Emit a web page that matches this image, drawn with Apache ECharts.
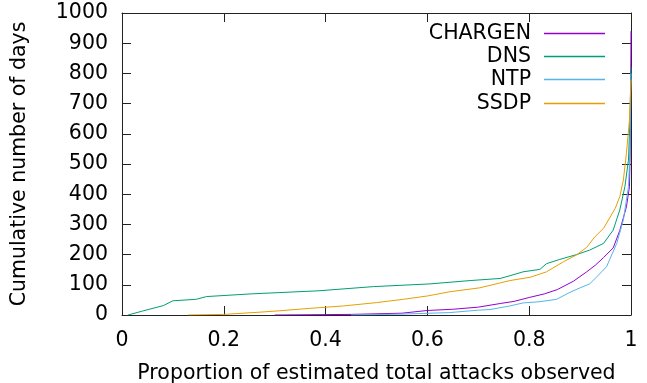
<!DOCTYPE html>
<html>
<head>
<meta charset="utf-8">
<script src="https://cdn.jsdelivr.net/npm/echarts@6/dist/echarts.min.js"></script>
<style>
  html, body { margin: 0; padding: 0; background: #fff; }
  #chart { width: 647px; height: 383px; }
</style>
</head>
<body>
<div id="chart"></div>
<script>
// Cumulative number of days vs. proportion of estimated total attacks observed
const seriesNames = ['CHARGEN', 'DNS', 'NTP', 'SSDP'];
const seriesColors = ['#9400d3', '#009e73', '#56b4e9', '#e69f00'];

// [proportion, cumulative days]
const chargen = [
  [0.30, 0], [0.45, 2], [0.55, 6], [0.60, 15], [0.65, 19], [0.70, 26], [0.743, 38],
  [0.77, 45], [0.80, 58], [0.83, 70], [0.855, 84], [0.887, 112], [0.913, 143],
  [0.93, 165], [0.946, 190], [0.965, 222], [0.978, 280], [0.991, 358], [0.997, 425],
  [0.999, 600], [1.0, 940]
];
const dns = [
  [0.012, 0], [0.04, 13], [0.081, 31], [0.100, 47], [0.146, 52], [0.166, 61],
  [0.254, 70], [0.385, 80], [0.494, 94], [0.605, 103], [0.684, 114], [0.743, 121],
  [0.762, 130], [0.788, 143], [0.821, 151], [0.834, 170], [0.86, 184], [0.893, 200],
  [0.919, 215], [0.946, 237], [0.965, 281], [0.978, 348], [0.988, 425], [0.995, 513],
  [0.998, 646], [1.0, 820]
];
const ntp = [
  [0.45, 0], [0.55, 3], [0.644, 8], [0.70, 16], [0.723, 18], [0.762, 30], [0.788, 40],
  [0.821, 44], [0.854, 52], [0.88, 75], [0.90, 90], [0.919, 103], [0.936, 132],
  [0.952, 160], [0.972, 237], [0.985, 315], [0.995, 425], [0.998, 536], [1.0, 800]
];
const ssdp = [
  [0.13, 0], [0.2, 2], [0.267, 9], [0.31, 14], [0.369, 22], [0.435, 30], [0.5, 41],
  [0.553, 52], [0.6, 63], [0.644, 77], [0.703, 90], [0.762, 114], [0.802, 125],
  [0.834, 143], [0.867, 176], [0.893, 199], [0.913, 224], [0.929, 259], [0.946, 287],
  [0.969, 353], [0.978, 392], [0.985, 447], [0.991, 535], [0.997, 646], [1.0, 780]
];
const seriesData = [chargen, dns, ntp, ssdp];

const xTickLabels = ['0', '0.2', '0.4', '0.6', '0.8', '1'];
const yTickLabels = ['0', '100', '200', '300', '400', '500', '600', '700', '800', '900', '1000'];

const FONT = 'DejaVu Sans';
const FS = 20.5;
const INK = '#000';
const FRAME = '#222';

const chart = echarts.init(document.getElementById('chart'), null, { renderer: 'canvas' });

const frameLine = { show: true, onZero: false, lineStyle: { color: FRAME, width: 1 } };
const innerTick = { show: true, inside: true, length: 9, lineStyle: { color: FRAME, width: 1 } };

const legendTops = [23, 46, 69, 93];

const option = {
  animation: false,
  backgroundColor: '#fff',
  textStyle: { fontFamily: FONT },
  grid: { left: 122, right: 16, top: 13, bottom: 68, containLabel: false, outerBoundsMode: 'none' },
  legend: seriesNames.map((name, i) => ({
    data: [name],
    right: 42,
    top: legendTops[i],
    padding: 0,
    orient: 'vertical',
    align: 'right',
    icon: 'rect',
    itemWidth: 61,
    itemHeight: 1.5,
    selectedMode: false,
    textStyle: { fontFamily: FONT, fontSize: FS, color: INK, lineHeight: 20, padding: [0, 8, 0, 0] }
  })),
  xAxis: [
    {
      type: 'value', position: 'bottom', min: 0, max: 1, interval: 0.2,
      name: 'Proportion of estimated total attacks observed',
      nameLocation: 'middle', nameGap: 48,
      nameTextStyle: { fontFamily: FONT, fontSize: FS, color: INK },
      axisLine: frameLine, axisTick: innerTick, splitLine: { show: false },
      axisLabel: {
        margin: 15, fontFamily: FONT, fontSize: FS, color: INK,
        formatter: (v, idx) => xTickLabels[idx]
      }
    },
    {
      type: 'value', position: 'top', min: 0, max: 1, interval: 0.2,
      axisLine: frameLine, axisTick: innerTick, splitLine: { show: false },
      axisLabel: { show: false }
    }
  ],
  yAxis: [
    {
      type: 'value', position: 'left', min: 0, max: 1000, interval: 100,
      name: 'Cumulative number of days',
      nameLocation: 'middle', nameGap: 92,
      nameTextStyle: { fontFamily: FONT, fontSize: FS, color: INK },
      axisLine: frameLine, axisTick: innerTick, splitLine: { show: false },
      axisLabel: {
        margin: 14, fontFamily: FONT, fontSize: FS, color: INK,
        formatter: (v, idx) => yTickLabels[idx]
      }
    },
    {
      type: 'value', position: 'right', min: 0, max: 1000, interval: 100,
      axisLine: frameLine, axisTick: innerTick, splitLine: { show: false },
      axisLabel: { show: false }
    }
  ],
  series: seriesNames.map((name, i) => ({
    name: name,
    type: 'line',
    data: seriesData[i],
    xAxisIndex: 0,
    yAxisIndex: 0,
    showSymbol: false,
    symbol: 'none',
    color: seriesColors[i],
    lineStyle: { color: seriesColors[i], width: 1 },
    z: 2 + i
  }))
};

chart.setOption(option);
</script>
</body>
</html>
